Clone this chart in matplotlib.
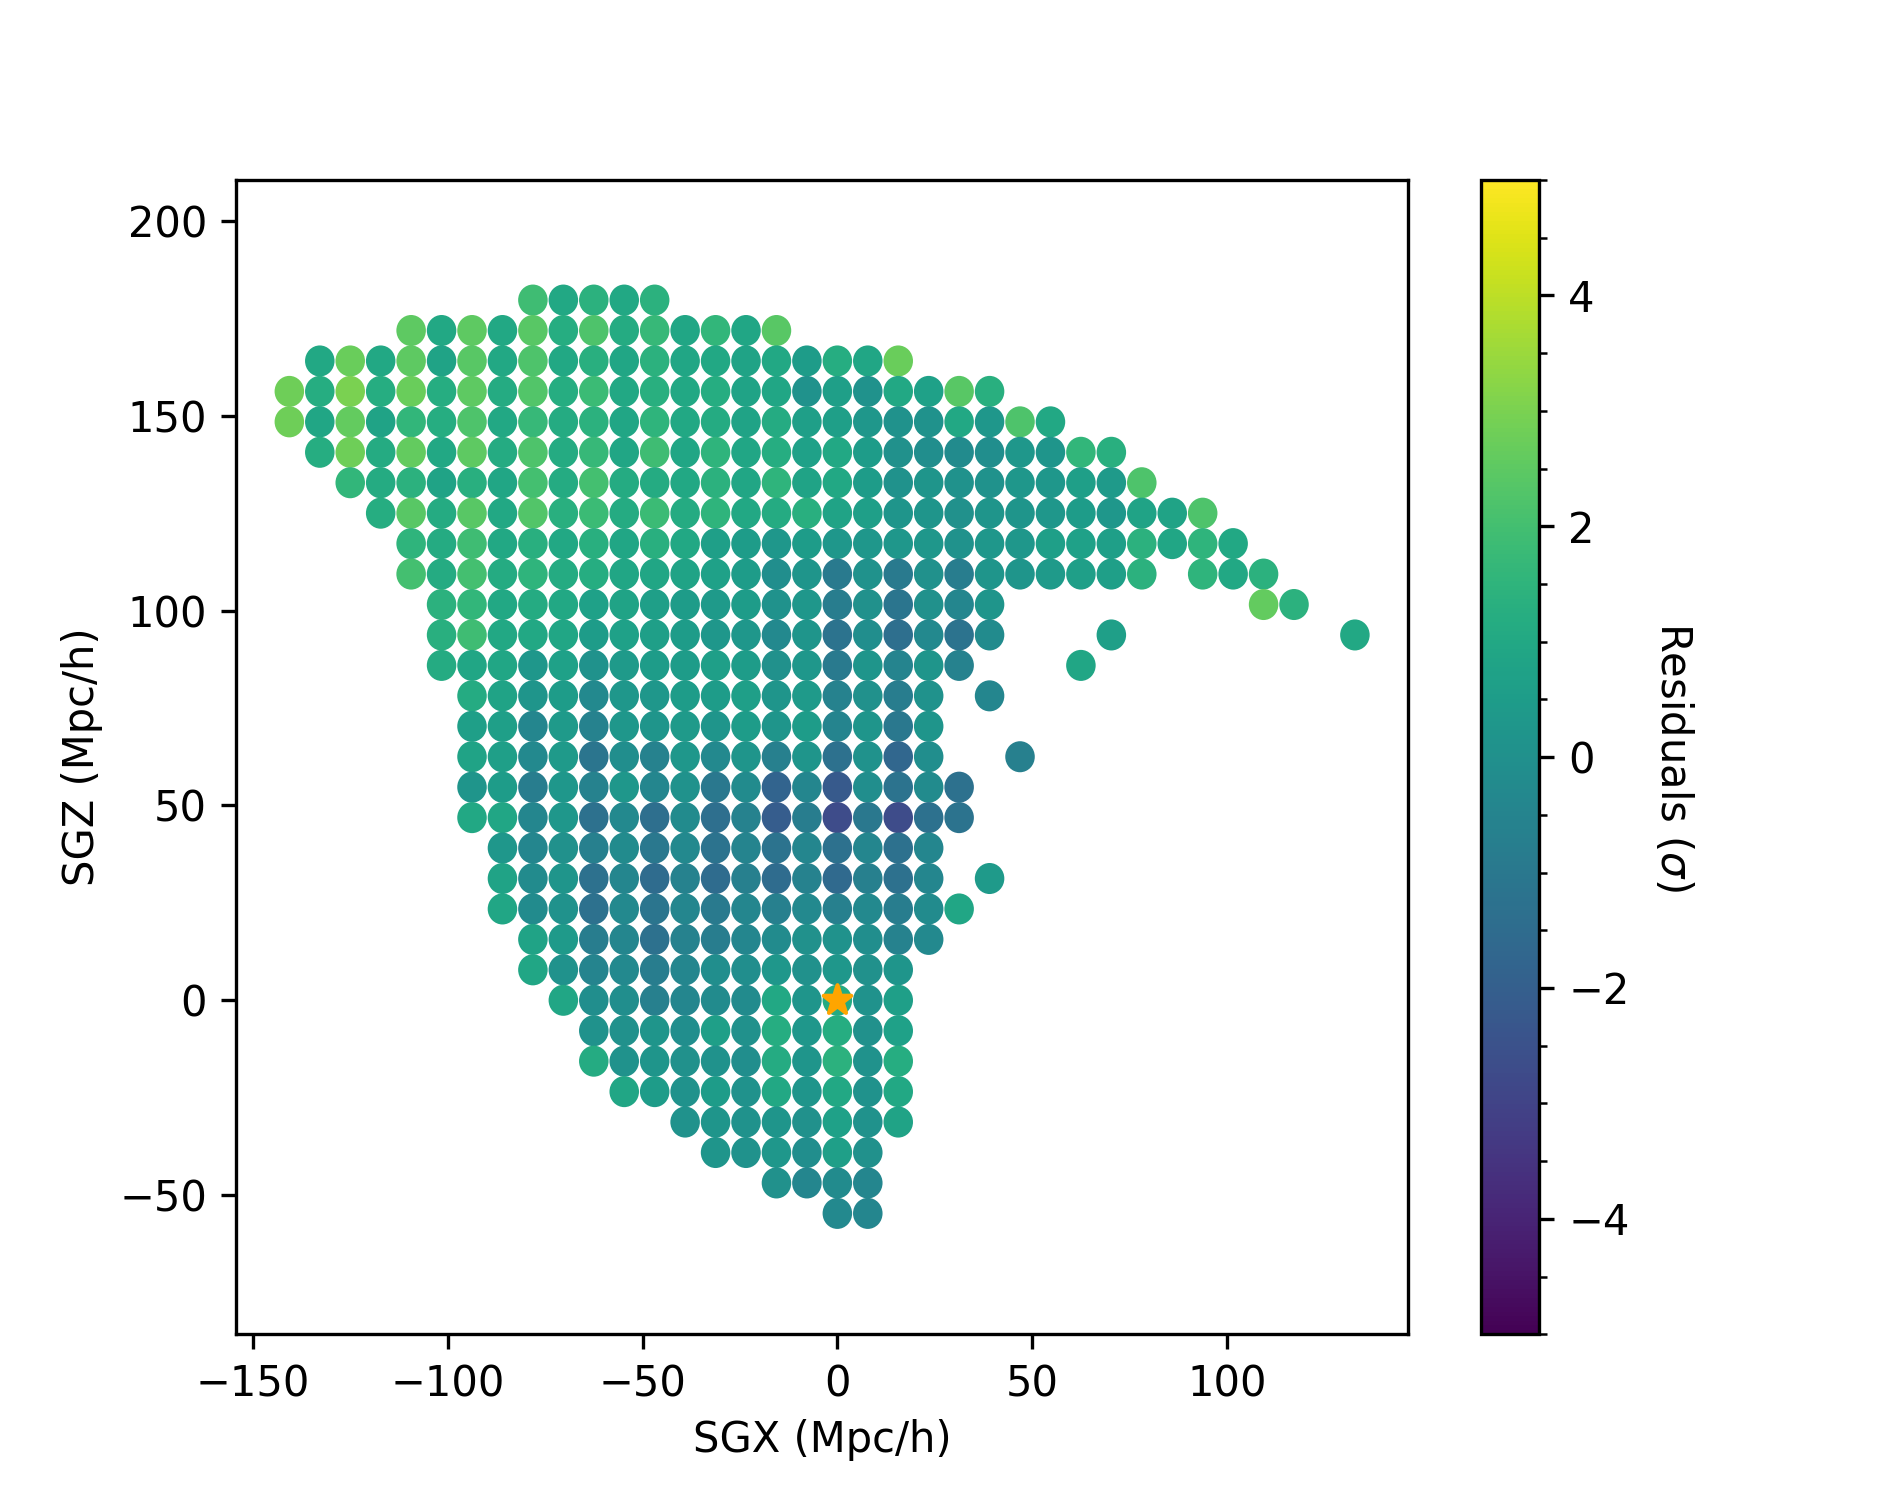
import numpy as np
import matplotlib
matplotlib.use('Agg')
import matplotlib.pyplot as plt
from matplotlib.markers import MarkerStyle
from matplotlib.transforms import Affine2D

grid_step = 7.8125

# grid index of each row in SGZ, first cell of the row in SGX, None = empty cell
row_k = [23, 22, 21, 20, 19, 18, 17, 16, 15, 14, 13, 12, 11, 10, 9, 8, 7, 6, 5, 4,
         3, 2, 1, 0, -1, -2, -3, -4, -5, -6, -7]
row_first = [-10, -14, -17, -18, -18, -17, -16, -15, -14, -14, -13, -13, -13, -12, -12, -12, -12, -12, -11, -11,
             -11, -10, -10, -9, -8, -8, -7, -5, -4, -2, 0]

row_resid = [
    [1.9, 1.0, 1.4, 1.0, 1.4],
    [2.5, 1.0, 2.5, 1.0, 2.4, 1.2, 2.2, 1.1, 1.7, 0.9, 1.6, 0.9, 2.4],
    [1.0, 2.7, 1.0, 2.5, 0.8, 2.4, 1.0, 2.2, 1.0, 1.3, 0.9, 1.4, 0.9, 1.0, 0.8, 1.0, 0.5, 1.2, 0.9, 2.7],
    [2.8, 1.2, 3.0, 1.2, 2.7, 1.2, 2.5, 1.1, 2.3, 1.2, 1.8, 1.0, 1.3, 1.0, 1.2, 0.8, 0.9, 0.1, 0.6, 0.1, 1.0, 0.7, 2.4, 1.3],
    [2.8, 0.9, 2.6, 0.8, 1.6, 1.2, 2.2, 1.0, 1.7, 1.1, 1.4, 0.9, 1.5, 1.0, 1.1, 0.8, 1.1, 0.6, 0.6, 0.3, 0.1, 0.1, 1.0, 0.3, 2.2, 1.0],
    [1.2, 2.8, 1.1, 2.6, 1.0, 2.5, 1.1, 2.2, 1.1, 1.7, 0.9, 1.9, 0.9, 1.5, 0.9, 1.2, 0.7, 1.0, 0.5, 0.0, -0.1, -0.2, -0.1, 0.3, 0.2, 1.6, 1.3],
    [1.6, 1.1, 1.4, 0.8, 1.3, 0.9, 2.0, 1.1, 2.0, 1.1, 1.1, 1.0, 1.4, 0.9, 1.5, 0.8, 1.0, 0.5, 0.1, 0.2, 0.1, 0.1, 0.3, 0.3, 0.6, 0.4, 2.2],
    [1.2, 2.4, 1.1, 2.4, 1.0, 2.3, 1.3, 1.8, 1.1, 1.8, 1.1, 1.5, 1.0, 1.1, 1.3, 0.8, 0.6, 0.2, 0.2, 0.0, 0.2, 0.2, 0.3, 0.5, 0.3, 0.8, 0.8, 2.2],
    [1.5, 1.1, 1.9, 1.0, 1.3, 1.0, 1.3, 0.9, 1.3, 1.0, 0.6, 0.5, 0.3, 0.5, 0.3, 0.3, 0.3, 0.3, 0.1, 0.3, 0.3, 0.6, 0.7, 0.6, 1.4, 0.9, 1.5, 1.0],
    [2.0, 1.1, 2.0, 1.1, 1.5, 1.1, 1.2, 0.9, 0.9, 0.8, 0.7, 0.5, -0.1, 0.2, -0.9, 0.1, -0.9, 0.0, -0.8, 0.2, 0.2, 0.4, 0.6, 0.6, 1.4, None, 1.5, 1.0, 1.4],
    [1.4, 1.6, 1.0, 1.1, 1.0, 0.7, 0.8, 0.6, 0.5, 0.4, 0.5, 0.1, 0.3, -0.8, 0.0, -1.1, 0.0, -0.4, 0.2,
     None, None, None, None, None, None, None, None, 2.6, 1.4],
    [1.3, 1.9, 1.0, 1.0, 0.9, 0.5, 0.7, 0.6, 0.5, 0.3, 0.3, -0.3, 0.2, -1.2, -0.1, -1.4, -0.3, -1.2, -0.2,
     None, None, None, 0.6, None, None, None, None, None, None, None, 1.0],
    [1.1, 0.9, 0.9, 0.3, 0.7, 0.1, 0.4, 0.5, 0.5, 0.6, 0.5, 0.0, 0.3, -0.9, 0.2, -0.5, 0.2, -0.6, None, None, None, 0.9],
    [1.1, 0.8, 0.2, 0.5, -0.3, 0.3, 0.3, 0.5, 0.5, 0.6, 0.2, 0.4, -0.6, 0.0, -0.8, 0.1, None, -0.4],
    [0.6, 0.6, -0.4, 0.4, -0.6, 0.3, 0.2, 0.4, 0.2, 0.5, 0.2, 0.5, -0.5, 0.2, -1.0, 0.2],
    [0.8, 0.6, -0.3, 0.4, -1.1, -0.1, -0.6, 0.3, -0.3, 0.2, -0.7, 0.2, -1.3, 0.1, -1.7, -0.1, None, None, -0.7],
    [0.2, 0.5, -0.8, 0.3, -0.6, 0.3, -0.4, 0.1, -1.0, -0.2, -1.8, -0.4, -2.2, -0.1, -1.2, -0.2, -1.3],
    [1.0, 0.9, -0.4, 0.3, -1.3, -0.3, -1.4, -0.2, -1.4, -0.6, -2.1, -0.8, -2.7, -1.0, -2.7, -1.3, -1.2],
    [0.3, -0.4, 0.0, -0.7, -0.2, -1.0, -0.3, -1.2, -0.5, -1.2, -0.4, -1.3, -0.4, -1.3, -0.4],
    [0.8, -0.2, 0.2, -1.3, -0.4, -1.5, -0.6, -1.5, -0.7, -1.5, -0.6, -1.6, -0.7, -1.3, -0.4, None, 0.4],
    [0.9, -0.2, 0.1, -1.3, -0.3, -1.1, -0.4, -0.9, -0.4, -0.7, -0.3, -0.7, -0.3, -0.8, -0.2, 0.9],
    [0.8, 0.4, -0.8, -0.4, -1.3, -0.6, -0.8, -0.4, -0.2, 0.0, 0.1, -0.1, -0.6, -0.3],
    [0.9, 0.1, -0.5, -0.3, -0.8, -0.4, -0.1, -0.1, 0.3, 0.0, 0.3, 0.0, 0.2],
    [0.9, -0.1, -0.1, -0.7, -0.4, -0.2, -0.2, 1.0, 0.2, 1.1, 0.1, 0.6],
    [0.1, 0.0, 0.2, -0.1, 0.6, 0.0, 1.2, 0.3, 1.2, 0.0, 0.7],
    [1.1, 0.1, 0.2, 0.0, 0.1, -0.1, 1.1, 0.2, 1.4, 0.1, 1.2],
    [0.9, 0.5, 0.1, 0.5, 0.1, 1.0, 0.2, 1.0, 0.1, 1.0],
    [0.1, 0.2, 0.1, 0.2, 0.0, 0.7, 0.1, 0.8],
    [0.2, 0.1, 0.3, -0.1, 0.6, 0.0],
    [0.0, -0.4, -0.2, -0.4],
    [-0.3, -0.4],
]

sgx, sgz, resid = [], [], []
for k, first, vals in zip(row_k, row_first, row_resid):
    for j, v in enumerate(vals):
        if v is None:
            continue
        sgx.append((first + j) * grid_step)
        sgz.append(k * grid_step)
        resid.append(v)

# reference was stretched a bit vertically, so circles are slightly tall
tall = Affine2D().scale(1, 1.06)

fig, ax = plt.subplots(figsize=(6.3, 5), dpi=300)
fig.subplots_adjust(bottom=0.1105)
sc = ax.scatter(sgx, sgz, c=resid, s=37, cmap='viridis', vmin=-5, vmax=5,
                marker=MarkerStyle('o', transform=tall))
ax.scatter([0], [0], s=48, color='orange', marker=MarkerStyle('*', transform=tall))
ax.set_xlim(-154.25, 146.45)
ax.set_ylim(-85.7, 210.5)
ax.set_xlabel('SGX (Mpc/h)', labelpad=3.3)
ax.set_ylabel('SGZ (Mpc/h)')

cbar = fig.colorbar(sc, ax=ax)
cbar.minorticks_on()
cbar.set_label(r'Residuals ($\sigma$)', rotation=270, labelpad=15.5)

fig.savefig('out.png', dpi=300)
